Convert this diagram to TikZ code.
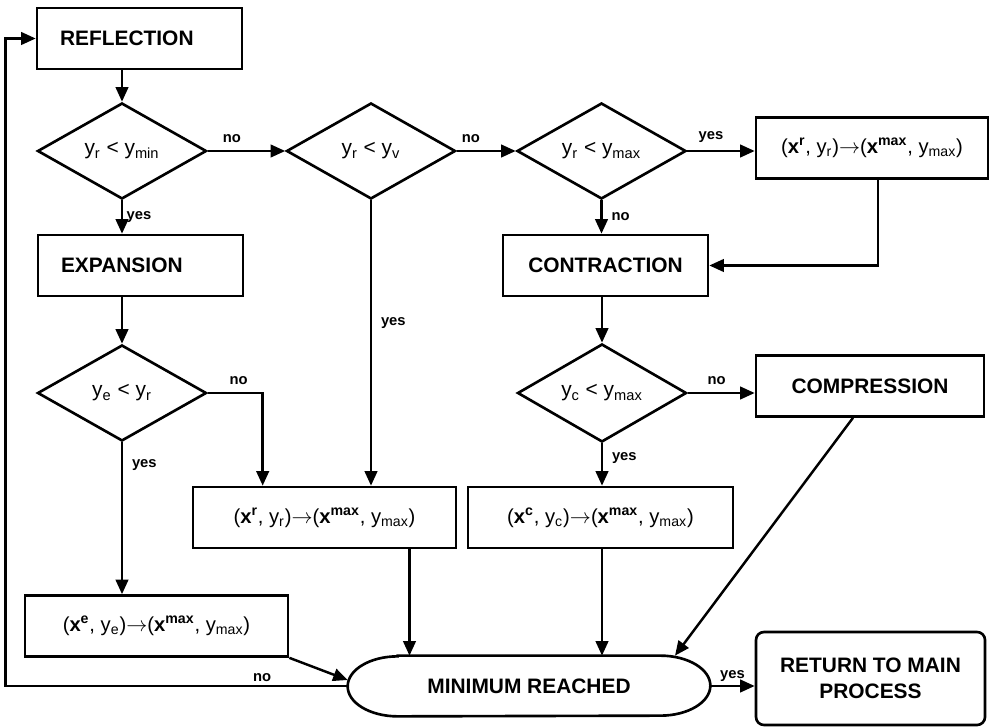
\documentclass[tikz,border=0pt]{standalone}
\usepackage{fontspec}
\setmainfont{Liberation Sans}
\usetikzlibrary{arrows.meta,positioning,shapes.geometric}
\newcommand{\lo}[1]{\textsubscript{#1}}
\newcommand{\hi}[1]{\textsuperscript{\textbf{#1}}}
\tikzset{
  >={Triangle[length=2.9mm,width=2.5mm]},
  % rutor
  blk/.style={rectangle,draw=black,line width=1.5pt,inner sep=0pt,
              minimum height=1.22cm,font=\fontsize{11.9}{15}\selectfont\bfseries},
  blkl/.style={blk,align=left,inner xsep=0.46cm,text width=3.18cm},
  upd/.style={rectangle,draw=black,line width=1.5pt,inner sep=0pt,
              minimum height=1.22cm,font=\fontsize{11.5}{13}\selectfont},
  dec/.style={diamond,draw=black,line width=1.5pt,inner sep=0pt,
              minimum width=3.38cm,minimum height=1.92cm,
              font=\fontsize{11.9}{13}\selectfont},
  term/.style={rectangle,inner sep=0pt,minimum width=7.24cm,minimum height=1.2cm,
               font=\fontsize{11.9}{13}\selectfont\bfseries},
  % pilar
  flw/.style={->,draw=black,line width=1.4pt},
  lbl/.style={font=\fontsize{8.4}{10}\selectfont\bfseries,inner sep=2pt},
}

\begin{document}
\begin{tikzpicture}
  \useasboundingbox (0,0) rectangle (19.8,14.54);
  \node[blkl] (refl) at (2.79,13.77) {REFLECTION};
  \node[dec] (d1) at (2.44,11.52) {y\lo{r} < y\lo{min}};
  \node[dec] (d2) at (7.42,11.52) {y\lo{r} < y\lo{v}};
  \node[dec] (d3) at (12.03,11.52) {y\lo{r} < y\lo{max}};
  \node[upd,minimum width=4.64cm] (xr1) at (17.44,11.58)
    {(\textbf{x}\hi{r}, y\lo{r})$\rightarrow$(\textbf{x}\hi{max}, y\lo{max})};
  \node[blkl] (expa) at (2.81,9.23) {EXPANSION};
  \node[blk,minimum width=4.1cm] (contr) at (12.11,9.23) {CONTRACTION};
  \node[dec] (d4) at (2.44,6.68) {y\lo{e} < y\lo{r}};
  \node[dec] (d5) at (12.04,6.68) {y\lo{c} < y\lo{max}};
  \node[blk,minimum width=4.56cm] (compr) at (17.4,6.82) {COMPRESSION};
  \node[upd,minimum width=5.26cm] (xr2) at (6.49,4.19)
    {(\textbf{x}\hi{r}, y\lo{r})$\rightarrow$(\textbf{x}\hi{max}, y\lo{max})};
  \node[upd,minimum width=5.3cm] (xc) at (12.01,4.19)
    {(\textbf{x}\hi{c}, y\lo{c})$\rightarrow$(\textbf{x}\hi{max}, y\lo{max})};
  \node[upd,minimum width=5.26cm] (xe) at (3.13,2.02)
    {(\textbf{x}\hi{e}, y\lo{e})$\rightarrow$(\textbf{x}\hi{max}, y\lo{max})};
  \node[term] (minr) at (10.58,0.82) {MINIMUM REACHED};
  \node[blk,rounded corners=0.16cm,minimum width=4.58cm,minimum height=1.86cm,
        align=center] (ret) at (17.41,0.97) {RETURN TO MAIN\\PROCESS};
  % avlang ram med elliptiska ändar
  \draw[line width=1.5pt] ([xshift=1cm]minr.north west) -- ([xshift=-1cm]minr.north east)
    arc[start angle=90,end angle=-90,x radius=1cm,y radius=0.6cm]
    -- ([xshift=1cm]minr.south west)
    arc[start angle=270,end angle=90,x radius=1cm,y radius=0.6cm] -- cycle;

  \draw[flw] (d1.north |- refl.south) -- (d1.north);
  \draw[flw] (d1.east) -- node[lbl,above=2pt,pos=0.31]{no} (d2.west);
  \draw[flw] (d2.east) -- node[lbl,above=2pt,pos=0.24]{no} (d3.west);
  \draw[flw] (d3.east) -- node[lbl,above=2pt,pos=0.35]{yes} (d3.east -| xr1.west);
  \draw[flw] (d1.south) -- node[lbl,right]{yes} (d1.south |- expa.north);
  \draw[flw] (d3.south) -- node[lbl,right=3pt]{no} (d3.south |- contr.north);
  \draw[flw] ([xshift=0.12cm]xr1.south) |- (contr.east);
  \draw[flw] (d4.north |- expa.south) -- (d4.north);
  \draw[flw] (d5.north |- contr.south) -- (d5.north);
  \draw[flw] (d4.east) -| node[lbl,above=2pt,pos=0.28]{no} ([xshift=1.42cm]xr2.north west);
  \draw[flw] (d2.south) -- node[lbl,right=3pt,pos=0.43]{yes} (d2.south |- xr2.north);
  \draw[flw] (d4.south) -- node[lbl,right=3pt,pos=0.15]{yes} (d4.south |- xe.north);
  \draw[flw] (d5.east) -- node[lbl,above=2pt,pos=0.43]{no} (d5.east -| compr.west);
  \draw[flw] (d5.south) -- node[lbl,right=3pt,pos=0.35]{yes} (d5.south |- xc.north);
  \draw[flw] ([xshift=1.7cm]xr2.south) -- ([xshift=1.7cm]xr2.south |- minr.north);
  \draw[flw] (d5.south |- xc.south) -- (d5.south |- minr.north);
  \draw[flw] ([xshift=-0.34cm]compr.south) -- ([xshift=2.92cm]minr.north);
  \draw[flw] (xe.south east) -- ([yshift=0.12cm]minr.west);
  \draw[flw] (minr.west) -| node[lbl,above,pos=0.125]{no} ([xshift=-0.6cm]refl.west)
    -- (refl.west);
  \draw[flw] (minr.east) -- node[lbl,above]{yes} (minr.east -| ret.west);
\end{tikzpicture}
\end{document}
